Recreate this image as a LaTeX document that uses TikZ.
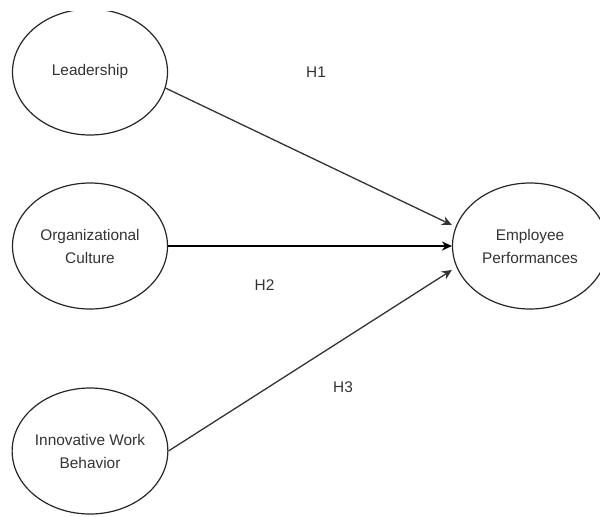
\documentclass[tikz,border=0pt]{standalone}
\usepackage{fontspec}
\setmainfont{Liberation Sans}
\usepackage{xcolor}
\usetikzlibrary{shapes.geometric, arrows.meta, positioning}
\definecolor{txtgray}{HTML}{333333}
\definecolor{linegray}{HTML}{333333}
\tikzset{
  construct/.style={ellipse, draw=black!85, line width=0.6pt, fill=white, align=center, inner sep=0pt,
    minimum width=77.5pt, minimum height=63pt, text=txtgray, font=\fontsize{7.7}{11.5}\selectfont},
  hyp/.style={text=txtgray, font=\fontsize{7.7}{9}\selectfont, inner sep=0pt},
  arr/.style={-{Stealth[length=5pt, width=4.6pt]}, line width=0.65pt, linegray},
}

\begin{document}
\begin{tikzpicture}[x=0.5pt, y=-0.5pt]
\useasboundingbox (0,0) rectangle (600,516);
\clip (0,11.5) rectangle (600,516);
\node[construct] (lead) at (90,72) {Leadership};
\node[construct] (org) at (90,246) {Organizational\\Culture};
\node[construct] (inn) at (90,451) {Innovative Work\\Behavior};
\node[construct] (emp) at (530,246) {Employee\\Performances};

\draw[arr] (lead.-12) -- ([yshift=10.5pt]emp.west);
\draw[arr, black] (org.east) -- (emp.west);
\draw[arr] (inn.east) -- ([yshift=-12pt]emp.west);

\node[hyp] (h1) at (316,72) {H1};
\node[hyp] (h2) at (264.5,285) {H2};
\node[hyp] (h3) at (343,387) {H3};
\end{tikzpicture}
\end{document}
